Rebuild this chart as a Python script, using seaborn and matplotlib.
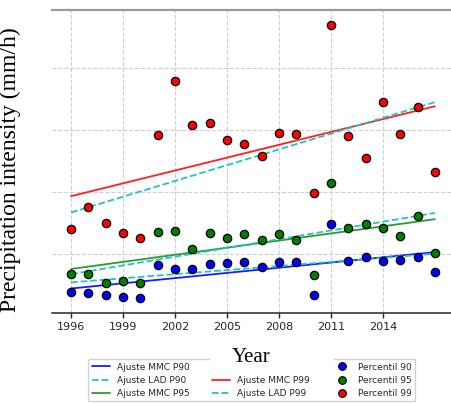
import numpy as np
import pandas as pd
import matplotlib
matplotlib.use("Agg")
import matplotlib.pyplot as plt
from matplotlib.patches import Rectangle
from matplotlib.lines import Line2D
import seaborn as sns

# Annual percentile precipitation intensities (mm/h)
years = list(range(1996, 2018))
p90 = [3.9, 3.6, 3.3, 3.0, 2.8, 8.2, 7.5, 7.5, 8.3, 8.5, 8.6,
       7.8, 8.6, 8.6, 3.3, 14.8, 8.9, 9.5, 8.9, 9.0, 9.5, 7.0]
p95 = [6.7, 6.7, 5.3, 5.6, 5.2, 13.5, 13.6, 10.8, 13.3, 12.5, 13.1,
       12.2, 13.1, 12.2, 6.6, 21.4, 14.2, 14.8, 14.2, 12.9, 16.1, 10.1]
p99 = [14.0, 17.5, 14.9, 13.3, 12.6, 29.2, 37.9, 30.8, 31.1, 28.3, 27.7,
       25.8, 29.5, 29.3, 19.8, 46.9, 29.0, 25.4, 34.5, 29.3, 33.6, 23.2]
xtick_years = [1996, 1999, 2002, 2005, 2008, 2011, 2014]


def ols_fit(x, y):
    slope, icpt = np.polyfit(x, y, 1)
    return icpt, slope


def lad_fit(x, y):
    # Least absolute deviations: the optimum passes through two observations
    best = (np.inf, 0.0, 0.0)
    n = len(x)
    for i in range(n):
        for j in range(i + 1, n):
            if x[j] == x[i]:
                continue
            s = (y[j] - y[i]) / (x[j] - x[i])
            b = y[i] - s * x[i]
            cost = np.abs(y - (b + s * x)).sum()
            if cost < best[0]:
                best = (cost, b, s)
    return best[1], best[2]


sns.set_style("whitegrid", {"grid.linestyle": "--"})
plt.rcParams["font.family"] = ["DejaVu Sans"]

fig = plt.figure(figsize=(4.51, 4.03), dpi=100)
ax = fig.add_axes([52 / 451, 1 - 313 / 403, 399 / 451, 303 / 403])

x = np.array(years, dtype=float)
t = x - years[0]
series = [("90", np.array(p90), "#0000ff"),
          ("95", np.array(p95), "#008000"),
          ("99", np.array(p99), "#ff0000")]
line_colors = {"90": "#1a1aff", "95": "#2e9a2e", "99": "#ff2020"}
lad_color = "#1fc4c4"

handles = {}
ends = np.array([t[0], t[-1]])
for name, y, pcolor in series:
    b, s = ols_fit(t, y)
    fit = pd.DataFrame({"year": x[[0, -1]], "val": b + s * ends})
    sns.lineplot(data=fit, x="year", y="val", ax=ax, color=line_colors[name],
                 lw=1.3, zorder=2)
    handles["MMC" + name] = Line2D([], [], color=line_colors[name], lw=1.3)
    b2, s2 = lad_fit(t, y)
    fit2 = pd.DataFrame({"year": x[[0, -1]], "val": b2 + s2 * ends})
    sns.lineplot(data=fit2, x="year", y="val", ax=ax, color=lad_color,
                 lw=1.3, linestyle="--", zorder=2)
    handles["LAD" + name] = Line2D([], [], color=lad_color, lw=1.3, ls="--")

for name, y, pcolor in series:
    df = pd.DataFrame({"year": x, "val": y})
    sns.scatterplot(data=df, x="year", y="val", ax=ax, color=pcolor,
                    edgecolor="black", linewidth=0.9, s=36, zorder=3)
    handles["P" + name] = Line2D([], [], ls="none", marker="o", markersize=5.5,
                                 markerfacecolor=pcolor, markeredgecolor="black",
                                 markeredgewidth=0.8)

# Empty slot that keeps the three-column legend grid aligned
handles["blank"] = Line2D([], [], ls="none", alpha=0)

ax.set_xlim(1994.9, 2017.93)
ax.set_ylim(0.44, 49.3)
ax.set_xticks(xtick_years)
ax.set_xticklabels([str(v) for v in xtick_years], fontsize=8, color="#262626")
ax.set_yticks([10, 20, 30, 40])
ax.set_yticklabels([])
ax.tick_params(axis="x", bottom=True, length=3.5, width=1, color="#262626", pad=3)
ax.tick_params(axis="y", left=False, length=0)
ax.grid(True, linestyle="--", color="#cfcfcf", linewidth=0.8)

for side in ["left", "right"]:
    ax.spines[side].set_visible(False)
ax.spines["top"].set_color("#9a9a9a")
ax.spines["top"].set_linewidth(1.6)
ax.spines["bottom"].set_color("#262626")
ax.spines["bottom"].set_linewidth(1.1)

ax.set_ylabel("Precipitation intensity (mm/h)", family="Liberation Serif",
              fontsize=17, color="black")
ax.yaxis.set_label_coords(-0.078, 0.474)
ax.set_xlabel("Year", family="Liberation Serif", fontsize=15, color="black")
ax.xaxis.set_label_coords(0.5, -0.116)

order = [("MMC90", "Ajuste MMC P90"), ("LAD90", "Ajuste LAD P90"),
         ("MMC95", "Ajuste MMC P95"), ("blank", " "),
         ("MMC99", "Ajuste MMC P99"), ("LAD99", "Ajuste LAD P99"),
         ("P90", "Percentil 90"), ("P95", "Percentil 95"), ("P99", "Percentil 99")]
leg = ax.legend([handles[k] for k, _ in order], [lab for _, lab in order],
                ncol=3, loc="upper left", bbox_to_anchor=(0.0902, -0.1518),
                borderaxespad=0, fontsize=6.5, labelspacing=0.45,
                columnspacing=2.5, handlelength=2.0, frameon=True,
                framealpha=1, edgecolor="#d0d0d0")
# Legend and the title backing sit beneath the axis artists (axisbelow)
leg.set_zorder(0.2)
ax.add_patch(Rectangle((210 / 451, 1 - 369.5 / 403), 124 / 451, 30 / 403,
                       transform=fig.transFigure, facecolor="white",
                       edgecolor="none", clip_on=False, zorder=0.3))

fig.savefig("out.png", dpi=100)
